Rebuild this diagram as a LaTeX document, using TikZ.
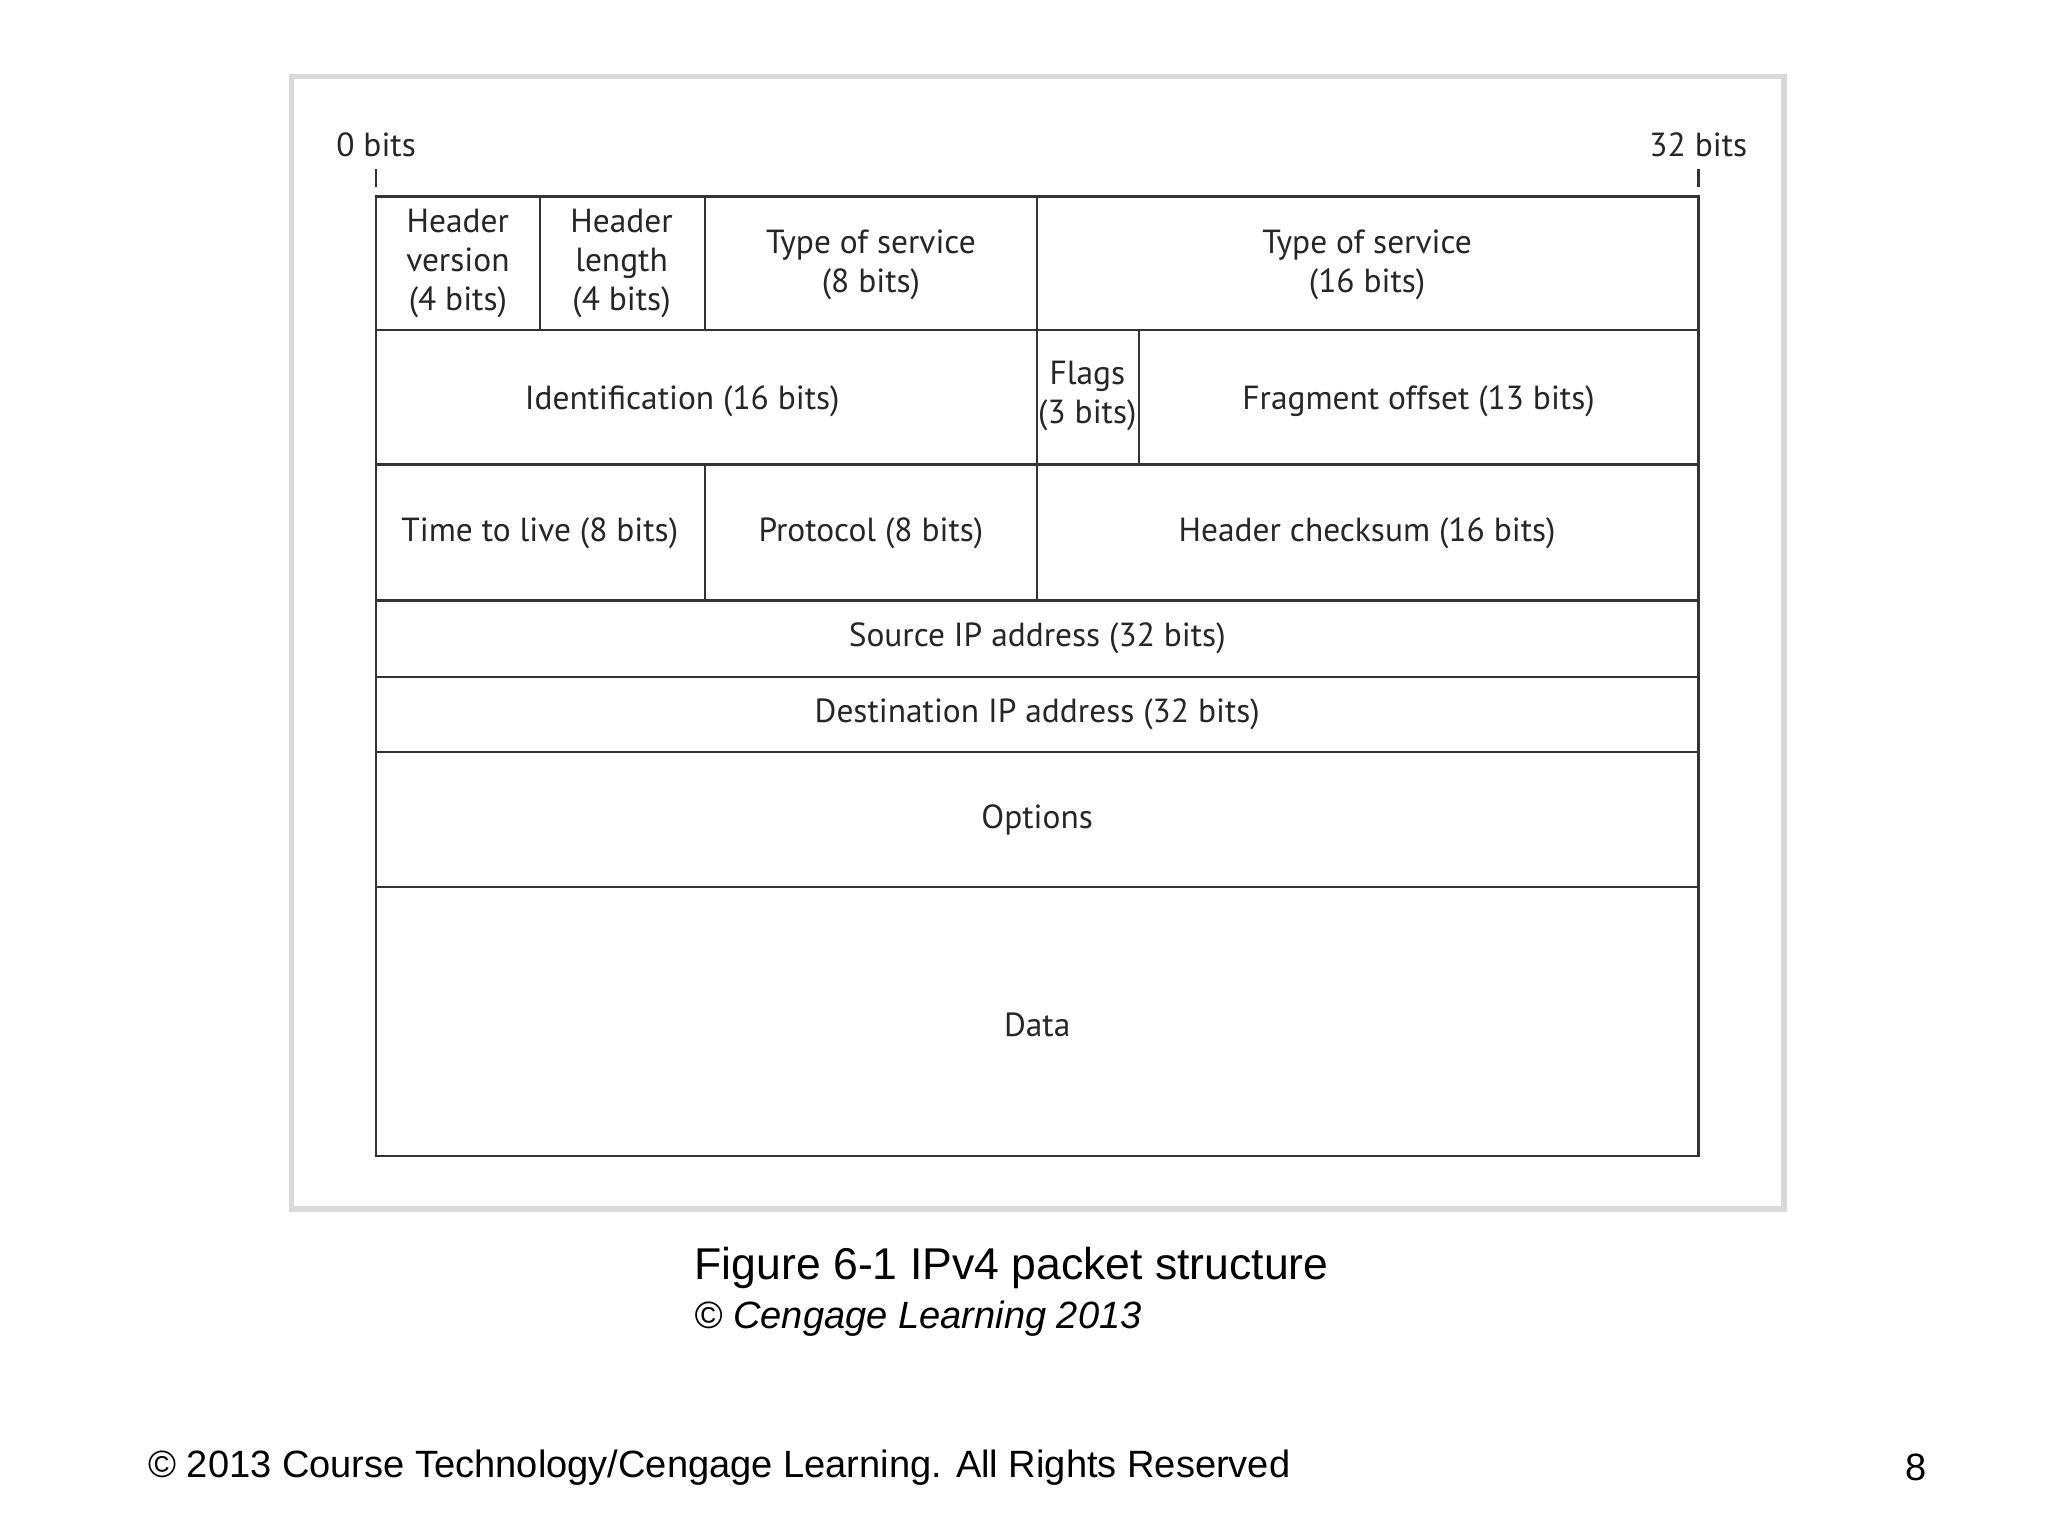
\documentclass[tikz,border=0pt]{standalone}
\usepackage{fontspec}
\setmainfont{Liberation Sans}
\newfontfamily\tabfont{PT Sans}
\begin{document}
\begin{tikzpicture}[x=0.01cm,y=-0.01cm,
  cell/.style={font=\tabfont\fontsize{7.2}{8.4}\selectfont,align=center,text=black!85},
  grid/.style={draw=black!80,line width=0.5pt}]
\useasboundingbox (0,0) rectangle (1552,1164);
\fill[white] (0,0) rectangle (1552,1164);
\draw[black!15,line width=1.2pt] (221,58) rectangle (1352,916);
% bits labels
\node[cell] (b0) at (285,110) {0 bits};
\node[cell] (b32) at (1287,110) {32 bits};
\draw[grid] (285,128) -- (285,142);
\draw[grid] (1287,128) -- (1287,142);
% grid
\draw[grid] (285,149) rectangle (1287,876);
\foreach \y in {250,352,455,513,570,672} \draw[grid] (285,\y) -- (1287,\y);
\draw[grid] (409,149) -- (409,250);
\draw[grid] (534,149) -- (534,250);
\draw[grid] (786,149) -- (786,455);
\draw[grid] (863,250) -- (863,352);
\draw[grid] (534,352) -- (534,455);
% labels
\node[cell] (hv) at (347,200) {Header\\version\\(4 bits)};
\node[cell] (hl) at (471,200) {Header\\length\\(4 bits)};
\node[cell] (tos) at (660,201) {Type of service\\(8 bits)};
\node[cell] (tos2) at (1036,201) {Type of service\\(16 bits)};
\node[cell] (id) at (517,304) {Identification (16 bits)};
\node[cell] (fl) at (824,300) {Flags\\(3 bits)};
\node[cell] (fo) at (1075,304) {Fragment offset (13 bits)};
\node[cell] (ttl) at (409,404) {Time to live (8 bits)};
\node[cell] (pr) at (660,404) {Protocol (8 bits)};
\node[cell] (hc) at (1036,404) {Header checksum (16 bits)};
\node[cell] (src) at (786,484) {Source IP address (32 bits)};
\node[cell] (dst) at (786,541) {Destination IP address (32 bits)};
\node[cell] (opt) at (786,621) {Options};
\node[cell] (data) at (786,777) {Data};
% captions
\node[anchor=west,font=\fontsize{9.6}{11}\selectfont] (cap) at (514,961) {Figure 6-1 IPv4 packet structure};
\node[anchor=west,font=\itshape\fontsize{8.2}{10}\selectfont] (cr) at (514,999) {© Cengage Learning 2013};
\node[anchor=west,font=\fontsize{8.2}{10}\selectfont] (foot) at (100,1112) {© 2013 Course Technology/Cengage Learning. All Rights Reserved};
\node[font=\fontsize{8.2}{10}\selectfont] (pg) at (1452,1112) {8};
\end{tikzpicture}
\end{document}
